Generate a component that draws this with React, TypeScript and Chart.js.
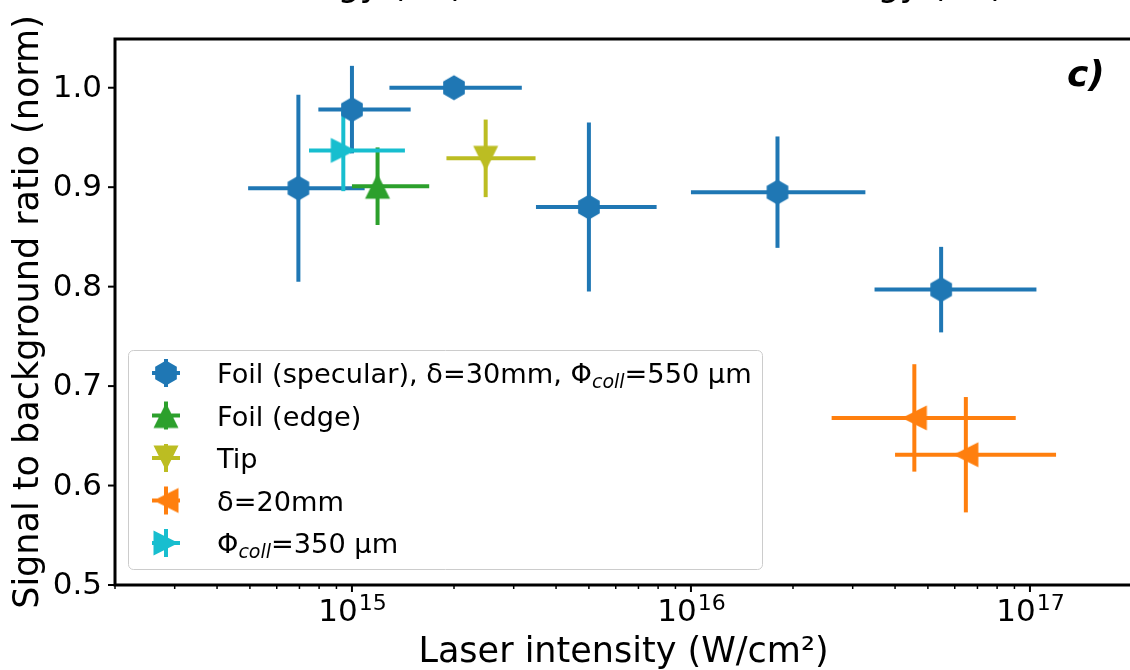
import React, { useEffect, useRef } from "react";
import { Chart, registerables } from "chart.js";

Chart.register(...registerables);

const FONT = '"DejaVu Sans", "Liberation Sans", sans-serif';

// ---------- Data ----------
// Foil (specular), δ=30mm, Φcoll=550 µm
const foilSpecX = [6.95e14, 1.0e15, 2.0e15, 5.0e15, 1.8e16, 5.47e16];
const foilSpecXLow = [4.94e14, 7.96e14, 1.29e15, 3.49e15, 1.0e16, 3.48e16];
const foilSpecXHigh = [1.09e15, 1.49e15, 3.17e15, 7.92e15, 3.27e16, 1.045e17];
const foilSpecY = [0.899, 0.978, 1.0, 0.88, 0.895, 0.797];
const foilSpecYErr = [0.094, 0.044, 0.0, 0.085, 0.056, 0.043];

// Foil (edge)
const foilEdgeX = [1.19e15];
const foilEdgeXLow = [1.0e15];
const foilEdgeXHigh = [1.69e15];
const foilEdgeY = [0.901];
const foilEdgeYErr = [0.039];

// Tip
const tipX = [2.48e15];
const tipXLow = [1.9e15];
const tipXHigh = [3.48e15];
const tipY = [0.929];
const tipYErr = [0.039];

// δ=20mm
const delta20X = [4.56e16, 6.47e16];
const delta20XLow = [2.6e16, 4.0e16];
const delta20XHigh = [9.08e16, 1.194e17];
const delta20Y = [0.668, 0.631];
const delta20YErr = [0.054, 0.058];

// Φcoll=350 µm
const coll350X = [9.43e14];
const coll350XLow = [7.47e14];
const coll350XHigh = [1.433e15];
const coll350Y = [0.937];
const coll350YErr = [0.041];

// Axis settings
const xMin = 2e14;
const xMax = 2e17;
const yMin = 0.5;
const yMax = 1.049;
const yTicks = [0.5, 0.6, 0.7, 0.8, 0.9, 1.0];
const xMajorTicks = [1e15, 1e16, 1e17];
const xMajorExponents = ["15", "16", "17"];

const xLabel = "Laser intensity (W/cm²)";
const yLabel = "Signal to background ratio (norm)";
const panelLabel = "c)";
const topFragment = "Energy (eV)";

const seriesLabels = [
  "Foil (specular), δ=30mm, Φ_{coll}=550 µm",
  "Foil (edge)",
  "Tip",
  "δ=20mm",
  "Φ_{coll}=350 µm",
];
const seriesColors = ["#1f77b4", "#2ca02c", "#bcbd22", "#ff7f0e", "#17becf"];
const seriesShapes = ["hexagon", "triUp", "triDown", "triLeft", "triRight"];

// ---------- helpers ----------
function shapePath(ctx: CanvasRenderingContext2D, shape: string, cx: number, cy: number, s: number) {
  const h = s / 2;
  ctx.beginPath();
  if (shape === "hexagon") {
    for (let k = 0; k < 6; k++) {
      const a = -Math.PI / 2 + (k * Math.PI) / 3;
      const px = cx + h * Math.cos(a);
      const py = cy + h * Math.sin(a);
      if (k === 0) ctx.moveTo(px, py);
      else ctx.lineTo(px, py);
    }
  } else if (shape === "triUp") {
    ctx.moveTo(cx, cy - h);
    ctx.lineTo(cx + h, cy + h);
    ctx.lineTo(cx - h, cy + h);
  } else if (shape === "triDown") {
    ctx.moveTo(cx, cy + h);
    ctx.lineTo(cx + h, cy - h);
    ctx.lineTo(cx - h, cy - h);
  } else if (shape === "triLeft") {
    ctx.moveTo(cx - h, cy);
    ctx.lineTo(cx + h, cy - h);
    ctx.lineTo(cx + h, cy + h);
  } else {
    ctx.moveTo(cx + h, cy);
    ctx.lineTo(cx - h, cy - h);
    ctx.lineTo(cx - h, cy + h);
  }
  ctx.closePath();
}

function makeMarker(shape: string, color: string, withBars: boolean): HTMLCanvasElement {
  const size = 34;
  const c = document.createElement("canvas");
  c.width = size;
  c.height = size;
  const ctx = c.getContext("2d")!;
  const m = size / 2;
  if (withBars) {
    ctx.strokeStyle = color;
    ctx.lineWidth = 4;
    ctx.beginPath();
    ctx.moveTo(m - 14, m);
    ctx.lineTo(m + 14, m);
    ctx.moveTo(m, m - 14);
    ctx.lineTo(m, m + 14);
    ctx.stroke();
  }
  ctx.fillStyle = color;
  shapePath(ctx, shape, m, m, 25);
  ctx.fill();
  return c;
}

function buildData(xs: number[], lo: number[], hi: number[], ys: number[], ye: number[]) {
  return xs.map((x, i) => ({
    x,
    y: ys[i],
    xMin: lo[i],
    xMax: hi[i],
    yMin: ys[i] - ye[i],
    yMax: ys[i] + ye[i],
  }));
}

function parseRich(s: string) {
  const parts: { t: string; sub: boolean }[] = [];
  const re = /_\{([^}]*)\}/g;
  let last = 0;
  let m: RegExpExecArray | null;
  while ((m = re.exec(s))) {
    if (m.index > last) parts.push({ t: s.slice(last, m.index), sub: false });
    parts.push({ t: m[1], sub: true });
    last = m.index + m[0].length;
  }
  if (last < s.length) parts.push({ t: s.slice(last), sub: false });
  return parts;
}

function line(ctx: CanvasRenderingContext2D, x1: number, y1: number, x2: number, y2: number) {
  ctx.beginPath();
  ctx.moveTo(x1, y1);
  ctx.lineTo(x2, y2);
  ctx.stroke();
}

const decorPlugin = {
  id: "decor",
  beforeDatasetsDraw(chart: any) {
    const ctx: CanvasRenderingContext2D = chart.ctx;
    const xs = chart.scales.x;
    const ys = chart.scales.y;
    ctx.save();
    ctx.lineWidth = 4;
    ctx.lineCap = "butt";
    chart.data.datasets.forEach((ds: any) => {
      ctx.strokeStyle = ds.errColor;
      ds.data.forEach((p: any) => {
        const px = xs.getPixelForValue(p.x);
        const py = ys.getPixelForValue(p.y);
        line(ctx, xs.getPixelForValue(p.xMin), py, xs.getPixelForValue(p.xMax), py);
        if (p.yMax > p.yMin) line(ctx, px, ys.getPixelForValue(p.yMin), px, ys.getPixelForValue(p.yMax));
      });
    });
    ctx.restore();
  },
  afterDraw(chart: any) {
    const ctx: CanvasRenderingContext2D = chart.ctx;
    const { left, right, top, bottom } = chart.chartArea;
    const xs = chart.scales.x;
    const ys = chart.scales.y;
    ctx.save();
    ctx.fillStyle = "#000";
    ctx.strokeStyle = "#000";

    // spines
    ctx.lineWidth = 3;
    ctx.strokeRect(left, top, right - left, bottom - top);

    // y ticks
    ctx.lineWidth = 2;
    yTicks.forEach((v) => {
      const py = ys.getPixelForValue(v);
      line(ctx, left - 7, py, left, py);
    });
    ctx.font = `31px ${FONT}`;
    ctx.textAlign = "right";
    ctx.textBaseline = "middle";
    yTicks.forEach((v) => ctx.fillText(v.toFixed(1), left - 13, ys.getPixelForValue(v) + 1));

    // x ticks (major + minor)
    for (let e = 14; e <= 17; e++) {
      for (let k = 1; k <= 9; k++) {
        const v = k * Math.pow(10, e);
        if (v < xMin * 0.999 || v > xMax * 1.001) continue;
        const px = xs.getPixelForValue(v);
        const major = k === 1;
        ctx.lineWidth = major ? 2 : 1.5;
        line(ctx, px, bottom, px, bottom + (major ? 7 : 4));
      }
    }
    ctx.textAlign = "left";
    ctx.textBaseline = "alphabetic";
    xMajorTicks.forEach((v, i) => {
      const px = xs.getPixelForValue(v);
      ctx.font = `31px ${FONT}`;
      const wb = ctx.measureText("10").width;
      ctx.font = `22px ${FONT}`;
      const we = ctx.measureText(xMajorExponents[i]).width;
      const x0 = px - (wb + we) / 2;
      ctx.font = `31px ${FONT}`;
      ctx.fillText("10", x0, 621);
      ctx.font = `22px ${FONT}`;
      ctx.fillText(xMajorExponents[i], x0 + wb + 1, 610);
    });

    // axis labels
    ctx.font = `35px ${FONT}`;
    ctx.textAlign = "center";
    ctx.fillText(xLabel, (left + right) / 2, 662);
    ctx.save();
    ctx.translate(38, (top + bottom) / 2);
    ctx.rotate(-Math.PI / 2);
    ctx.fillText(yLabel, 0, 0);
    ctx.restore();

    // fragments of the labels of the panels above
    ctx.textAlign = "left";
    ctx.font = `35px ${FONT}`;
    const wEner = ctx.measureText("Ener").width;
    ctx.fillText(topFragment, 338 - wEner, -4);
    ctx.fillText(topFragment, 878 - wEner, -4);

    // panel label
    ctx.font = `italic bold 36px ${FONT}`;
    ctx.fillText(panelLabel, 1067, 86);

    // legend
    const lx = 128.5, ly = 350.5, lw = 634, lh = 219;
    ctx.beginPath();
    if ((ctx as any).roundRect) (ctx as any).roundRect(lx, ly, lw, lh, 5);
    else ctx.rect(lx, ly, lw, lh);
    ctx.fillStyle = "rgba(255,255,255,0.8)";
    ctx.fill();
    ctx.strokeStyle = "#cccccc";
    ctx.lineWidth = 1;
    ctx.stroke();

    const legendMarkers: HTMLCanvasElement[] = chart.$legendMarkers;
    seriesLabels.forEach((lab, i) => {
      const cy = 373 + 42.5 * i;
      const mk = legendMarkers[i];
      ctx.drawImage(mk, 166 - mk.width / 2, cy - mk.height / 2);
      let x = 217;
      const base = cy + 10;
      ctx.fillStyle = "#000";
      parseRich(lab).forEach((part) => {
        if (part.sub) {
          ctx.font = `italic 19px ${FONT}`;
          ctx.fillText(part.t, x, base + 5);
        } else {
          ctx.font = `27.2px ${FONT}`;
          ctx.fillText(part.t, x, base);
        }
        x += ctx.measureText(part.t).width;
      });
    });

    ctx.restore();
  },
};

export default function App() {
  const ref = useRef<HTMLCanvasElement>(null);

  useEffect(() => {
    document.body.style.margin = "0";
    document.body.style.overflow = "hidden";
    const canvas = ref.current!;

    const seriesData = [
      buildData(foilSpecX, foilSpecXLow, foilSpecXHigh, foilSpecY, foilSpecYErr),
      buildData(foilEdgeX, foilEdgeXLow, foilEdgeXHigh, foilEdgeY, foilEdgeYErr),
      buildData(tipX, tipXLow, tipXHigh, tipY, tipYErr),
      buildData(delta20X, delta20XLow, delta20XHigh, delta20Y, delta20YErr),
      buildData(coll350X, coll350XLow, coll350XHigh, coll350Y, coll350YErr),
    ];

    const datasets: any[] = seriesData.map((data, i) => ({
      label: seriesLabels[i].replace(/_\{([^}]*)\}/g, "$1"),
      data,
      errColor: seriesColors[i],
      pointStyle: makeMarker(seriesShapes[i], seriesColors[i], false),
      pointRadius: 12,
      pointHoverRadius: 12,
      backgroundColor: seriesColors[i],
      borderColor: seriesColors[i],
      showLine: false,
      order: -i,
    }));

    const chart: any = new Chart(canvas, {
      type: "scatter",
      data: { datasets },
      options: {
        responsive: false,
        devicePixelRatio: 1,
        animation: false,
        events: [],
        layout: { autoPadding: false, padding: { left: 0, right: 8, top: 39, bottom: 0 } },
        plugins: { legend: { display: false }, tooltip: { enabled: false } },
        scales: {
          x: {
            type: "logarithmic",
            min: xMin,
            max: xMax,
            ticks: { display: false },
            grid: { display: false },
            border: { display: false },
            afterFit: (s: any) => {
              s.height = 85;
            },
          },
          y: {
            type: "linear",
            min: yMin,
            max: yMax,
            ticks: { display: false },
            grid: { display: false },
            border: { display: false },
            afterFit: (s: any) => {
              s.width = 115;
            },
          },
        },
      } as any,
      plugins: [
        {
          id: "markers",
          beforeInit(c: any) {
            c.$legendMarkers = seriesShapes.map((s, i) => makeMarker(s, seriesColors[i], true));
          },
        },
        decorPlugin,
      ],
    });

    return () => chart.destroy();
  }, []);

  return (
    <div
      style={{
        position: "fixed",
        left: 0,
        top: 0,
        width: 1130,
        height: 670,
        overflow: "hidden",
        background: "#fff",
      }}
    >
      <canvas ref={ref} width={1140} height={670} style={{ width: 1140, height: 670, display: "block" }} />
    </div>
  );
}
